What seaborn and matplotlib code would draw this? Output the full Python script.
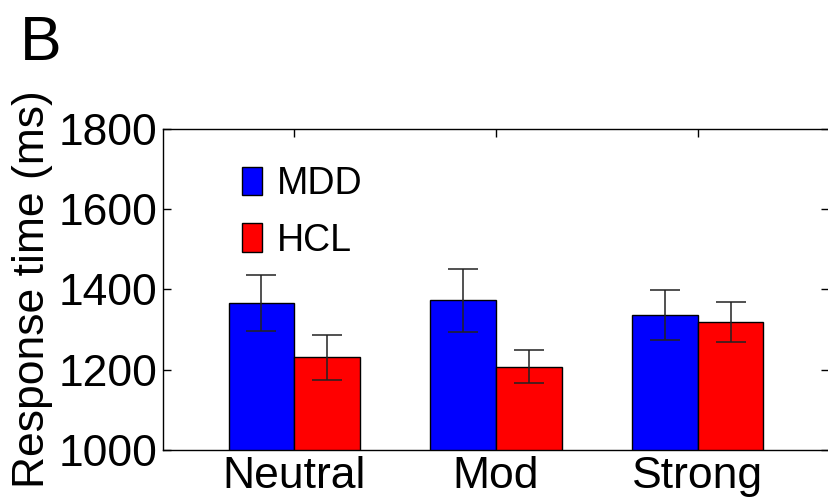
import numpy as np
import pandas as pd
import matplotlib
matplotlib.use("Agg")
import matplotlib.pyplot as plt
import seaborn as sns

# data
conditions = ["Neutral", "Mod", "Strong"]
groups = ["MDD", "HCL"]
mdd_rt = [1366, 1373, 1336]
mdd_se = [69, 79, 63]
hcl_rt = [1231, 1208, 1320]
hcl_se = [56, 40, 50]
y_ticks = [1000, 1200, 1400, 1600, 1800]

sns.set_style("ticks")
plt.rcParams["font.family"] = ["Liberation Sans", "DejaVu Sans"]
for k in ["text.color", "axes.labelcolor", "xtick.color", "ytick.color"]:
    plt.rcParams[k] = "black"

df = pd.DataFrame({
    "condition": conditions * 2,
    "group": ["MDD"] * 3 + ["HCL"] * 3,
    "rt": mdd_rt + hcl_rt,
})
errs = {"MDD": mdd_se, "HCL": hcl_se}

fig = plt.figure(figsize=(8.29, 5.01), dpi=100)
ax = fig.add_axes([163 / 829, 51 / 501, 666 / 829, 321 / 501])

sns.barplot(data=df, x="condition", y="rt", hue="group", order=conditions,
            hue_order=groups, palette=["#0000ff", "#ff0000"], saturation=1,
            width=0.65, gap=0, edgecolor="black", linewidth=1.0,
            errorbar=None, ax=ax)

# error bars on each bar (SE)
for cont, g in zip(ax.containers, groups):
    xs = [p.get_x() + p.get_width() / 2 for p in cont]
    ys = [p.get_height() for p in cont]
    ax.errorbar(xs, ys, yerr=errs[g], fmt="none", ecolor="#222222",
                elinewidth=1.1, capsize=11, capthick=1.1, zorder=5)

ax.set_xlim(-0.65, 2.65)
ax.set_ylim(1000, 1800)
ax.set_yticks(y_ticks)
ax.set_xlabel("")
ax.set_ylabel("Response time (ms)", fontsize=32, labelpad=4)
ax.tick_params(axis="both", direction="in", length=6, width=1,
               top=True, right=True, labelsize=32, colors="black")
ax.tick_params(axis="y", pad=4)
ax.tick_params(axis="x", pad=4)
for s in ax.spines.values():
    s.set_visible(True)
    s.set_linewidth(1.0)
    s.set_color("black")

leg = ax.legend(loc="upper left", bbox_to_anchor=(0.118, 0.885), frameon=False,
                fontsize=27, handlelength=0.55, handleheight=0.8,
                handletextpad=0.4, labelspacing=0.55, borderpad=0,
                borderaxespad=0)

fig.text(20 / 829, 1 - 60 / 501, "B", fontsize=45, va="baseline", ha="left")

fig.savefig("out.png", dpi=100)
